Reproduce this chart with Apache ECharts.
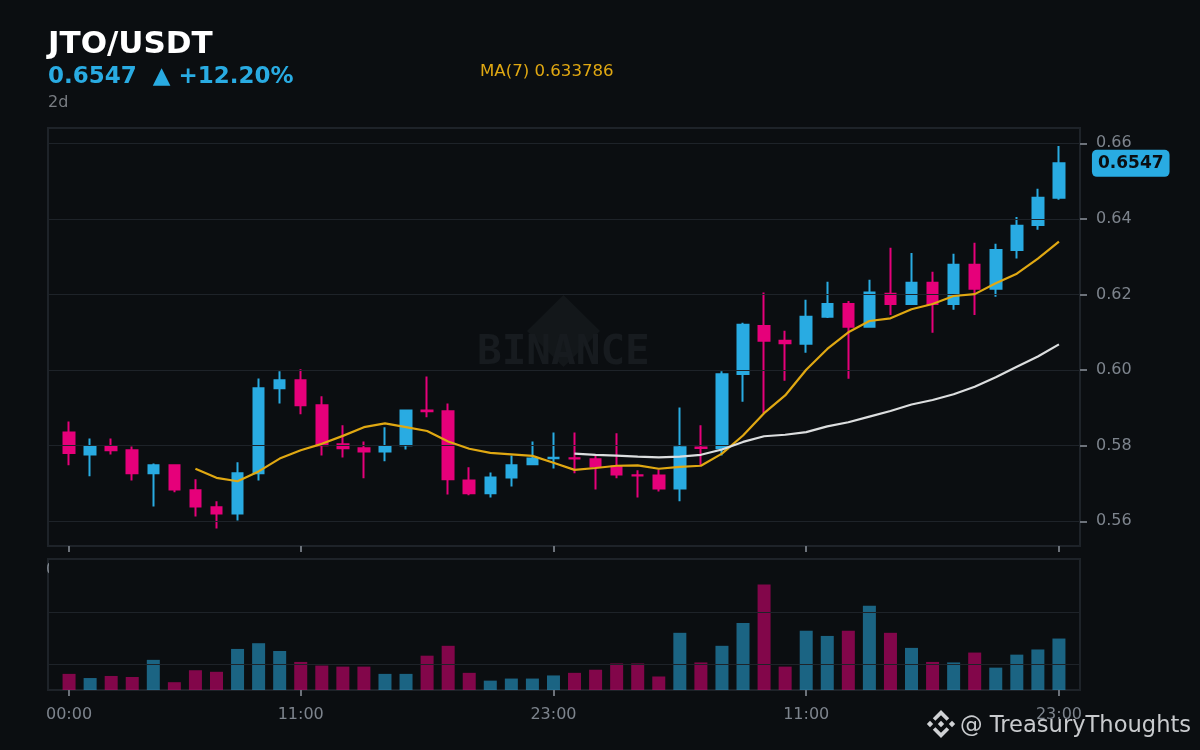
<!DOCTYPE html>
<html><head><meta charset="utf-8">
<style>html,body{margin:0;padding:0;background:#0b0e11}#c{width:1200px;height:750px}</style>
<script src="https://cdn.jsdelivr.net/npm/echarts@6/dist/echarts.min.js"></script>
</head><body><div id="c"></div>
<script>
const hours = ["00:00","01:00","02:00","03:00","04:00","05:00","06:00","07:00","08:00","09:00","10:00","11:00","12:00","13:00","14:00","15:00","16:00","17:00","18:00","19:00","20:00","21:00","22:00","23:00","00:00","01:00","02:00","03:00","04:00","05:00","06:00","07:00","08:00","09:00","10:00","11:00","12:00","13:00","14:00","15:00","16:00","17:00","18:00","19:00","20:00","21:00","22:00","23:00"];
const tickIndexes = [0,11,23,35,47];
const priceTicks = [0.56,0.58,0.60,0.62,0.64,0.66];
const volumeTicks = [1,2];
const opens = [.5835,.5777,.5798,.5788,.5727,.5748,.5682,.5637,.5621,.5727,.5952,.5973,.5907,.5804,.5793,.5785,.5801,.5893,.5891,.5708,.5674,.5716,.5751,.5767,.5767,.5764,.5745,.5722,.5721,.5687,.5795,.5793,.5990,.6117,.6078,.6070,.6141,.6175,.6115,.6202,.6175,.6231,.6175,.6279,.6215,.6318,.6384,.6456];
const closes = [.5781,.5798,.5788,.5727,.5748,.5684,.5639,.5621,.5727,.5952,.5973,.5907,.5801,.5793,.5785,.5798,.5893,.5891,.5711,.5674,.5716,.5748,.5766,.5768,.5766,.5745,.5724,.5721,.5687,.5796,.5794,.5989,.6120,.6078,.6071,.6141,.6175,.6115,.6205,.6175,.6231,.6175,.6279,.6215,.6318,.6382,.6456,.6547];
const lows = [.5748,.5719,.5777,.5708,.5639,.5677,.5613,.5581,.5602,.5708,.5912,.5883,.5774,.5769,.5714,.5759,.5790,.5875,.5671,.5669,.5663,.5692,.5748,.5740,.5727,.5684,.5714,.5663,.5679,.5653,.5748,.5774,.5916,.5886,.5972,.6046,.6138,.5977,.6112,.6146,.6173,.6099,.6160,.6146,.6194,.6295,.6371,.6451];
const highs = [.5864,.5819,.5819,.5798,.5753,.5751,.5711,.5653,.5756,.5978,.5997,.6002,.5931,.5854,.5811,.5849,.5896,.5983,.5912,.5743,.5729,.5774,.5811,.5835,.5835,.5774,.5833,.5735,.5737,.5901,.5854,.5997,.6125,.6205,.6104,.6186,.6234,.6183,.6239,.6324,.6310,.6260,.6308,.6337,.6334,.6405,.6480,.6593];
const ma7 = [null,null,null,null,null,null,.5739,.5715,.5706,.5732,.5766,.5788,.5805,.5826,.5849,.5859,.5849,.5839,.5811,.5792,.5781,.5777,.5773,.5755,.5736,.5741,.5747,.5748,.5739,.5744,.5747,.5779,.5827,.5886,.5933,.6001,.6056,.6100,.6130,.6137,.6161,.6175,.6196,.6201,.6230,.6255,.6295,.6340];
const ma25 = [null,null,null,null,null,null,null,null,null,null,null,null,null,null,null,null,null,null,null,null,null,null,null,null,.5779,.5776,.5774,.5771,.5769,.5771,.5776,.5790,.5810,.5825,.5829,.5836,.5851,.5862,.5877,.5892,.5909,.5921,.5936,.5956,.5981,.6009,.6036,.6068];
const volumes = [.81,.73,.77,.75,1.08,.65,.88,.85,1.29,1.40,1.25,1.04,.97,.95,.95,.81,.81,1.16,1.35,.83,.68,.72,.72,.78,.83,.89,1.01,1.01,.76,1.60,1.03,1.35,1.79,2.53,.95,1.64,1.54,1.64,2.12,1.60,1.31,1.04,1.03,1.22,.93,1.18,1.28,1.49];
const lastPrice = 0.6547;

const UP = '#29abe2', DOWN = '#e6007a', BG = '#0b0e11', LINE = '#1e2329';
const TICK = '#6c727a', LABEL = '#7d848d';
const cats = [''].concat(hours, ['']);
const pad = a => [null].concat(a, [null]);
const isTick = i => tickIndexes.includes(i - 1);
const candle = [['-','-','-','-']].concat(opens.map((o,i)=>[o,closes[i],lows[i],highs[i]]), [['-','-','-','-']]);
const volData = [null].concat(volumes.map((v,i)=>({value:v,itemStyle:{color:closes[i]>=opens[i]?UP:DOWN}})), [null]);

function xAx(gi, labelTest, margin, z){ return {type:'category',gridIndex:gi,data:cats,boundaryGap:false,position:'bottom',z:z,
  axisLine:{show:false},splitLine:{show:false},
  axisTick:{show:true,length:6,interval:(i)=>isTick(i),lineStyle:{color:TICK,width:2}},
  axisLabel:{show:true,interval:(i)=>labelTest(i),color:LABEL,fontSize:16,fontFamily:'DejaVu Sans',margin:margin,hideOverlap:false}}; }

const chart = echarts.init(document.getElementById('c'),null,{renderer:'canvas'});
function poly(pts,fill,z){return {type:'polygon',shape:{points:pts},style:{fill},z:z,silent:true};}
function logo(cx,cy,c){
  const d=(x,y,r)=>poly([[cx+x,cy+y-r],[cx+x+r,cy+y],[cx+x,cy+y+r],[cx+x-r,cy+y]],c,20);
  return [d(-11,0,3.2),d(11,0,3.2),d(0,0,3.2),
    poly([[cx,cy-14],[cx+8.2,cy-5.8],[cx+5.6,cy-3.2],[cx,cy-8.8],[cx-5.6,cy-3.2],[cx-8.2,cy-5.8]],c,20),
    poly([[cx,cy+14],[cx+8.2,cy+5.8],[cx+5.6,cy+3.2],[cx,cy+8.8],[cx-5.6,cy+3.2],[cx-8.2,cy+5.8]],c,20)];
}
chart.setOption({
  animation:false,
  backgroundColor:BG,
  title:[
    {text:'JTO/USDT',left:48,top:27,padding:0,textStyle:{color:'#ffffff',fontFamily:'DejaVu Sans',fontWeight:'bold',fontSize:31,lineHeight:36}},
    {text:'0.6547  ▲ +12.20%',left:48,top:64,padding:0,textStyle:{color:UP,fontFamily:'DejaVu Sans',fontWeight:'bold',fontSize:23,lineHeight:26}},
    {text:'2d',left:48,top:93,padding:0,textStyle:{color:'#797d83',fontFamily:'DejaVu Sans',fontWeight:'normal',fontSize:16,lineHeight:20}},
    {text:'MA(7) 0.633786',left:480,top:62,padding:0,textStyle:{color:'#e0a812',fontFamily:'DejaVu Sans',fontWeight:'normal',fontSize:16.6,lineHeight:20}},
    {text:'@ TreasuryThoughts',left:960,top:712,padding:0,textStyle:{color:'#c9cbce',fontFamily:'DejaVu Sans',fontWeight:'normal',fontSize:22.6,lineHeight:28}}
  ],
  grid:[
    {left:48,right:120,top:128,height:418,show:true,backgroundColor:'transparent',borderColor:LINE,borderWidth:2},
    {left:48,right:120,top:559,height:131,show:true,backgroundColor:'transparent',borderColor:LINE,borderWidth:2}
  ],
  xAxis:[xAx(0,i=>i===1,16,0),xAx(1,isTick,17,5)],
  yAxis:[
    {type:'value',gridIndex:0,position:'right',min:0.55347,max:0.66405,z:3,scale:true,
     axisLine:{show:false},axisTick:{show:true,length:7,customValues:priceTicks,lineStyle:{color:TICK,width:2}},
     splitLine:{show:true,lineStyle:{color:LINE,width:1}},
     axisLabel:{color:LABEL,fontSize:16,fontFamily:'DejaVu Sans',margin:9,padding:[5,0,0,7],customValues:priceTicks,formatter:v=>v.toFixed(2)}},
    {type:'value',gridIndex:1,position:'right',min:0.5,max:3.02,z:3,
     axisLine:{show:false},axisTick:{show:false,customValues:volumeTicks},axisLabel:{show:false},
     splitLine:{show:true,lineStyle:{color:LINE,width:1}}}
  ],
  graphic:[
    {type:'rect',shape:{x:49,y:560,width:1030,height:22},style:{fill:BG},z:1,silent:true},
    poly([[563.5,295],[600,331],[563.5,367],[527,331]],'#13171a',0),
    {type:'text',x:477,y:333,style:{text:'BINANCE',fill:'#171b1f',font:'bold 41px "DejaVu Sans Mono"'},z:0,silent:true}
  ].concat(logo(941,724,'#d0d2d5')),
  series:[
    {type:'bar',name:'Volume',xAxisIndex:1,yAxisIndex:1,data:volData,barWidth:13,z:2,itemStyle:{opacity:0.55}},
    {type:'candlestick',name:'JTO/USDT',xAxisIndex:0,yAxisIndex:0,data:candle,barWidth:11,z:2,
     itemStyle:{color:UP,color0:DOWN,borderColor:UP,borderColor0:DOWN,borderWidth:2},
     markPoint:{silent:true,symbol:'circle',symbolSize:0,animation:false,z:10,
       data:[{coord:[48,lastPrice],value:lastPrice}],
       label:{show:true,position:'right',distance:33,formatter:()=>lastPrice.toFixed(4),color:'#0b0e11',fontFamily:'DejaVu Sans',fontWeight:'bold',fontSize:17,backgroundColor:UP,borderRadius:5,padding:[5,6,5,6]}}},
    {type:'line',name:'MA(7)',xAxisIndex:0,yAxisIndex:0,data:pad(ma7),showSymbol:false,z:4,connectNulls:false,lineStyle:{color:'#e0a812',width:2.2}},
    {type:'line',name:'MA(25)',xAxisIndex:0,yAxisIndex:0,data:pad(ma25),showSymbol:false,z:4,connectNulls:false,lineStyle:{color:'#dcdedf',width:2.2}}
  ]
});
</script></body></html>
